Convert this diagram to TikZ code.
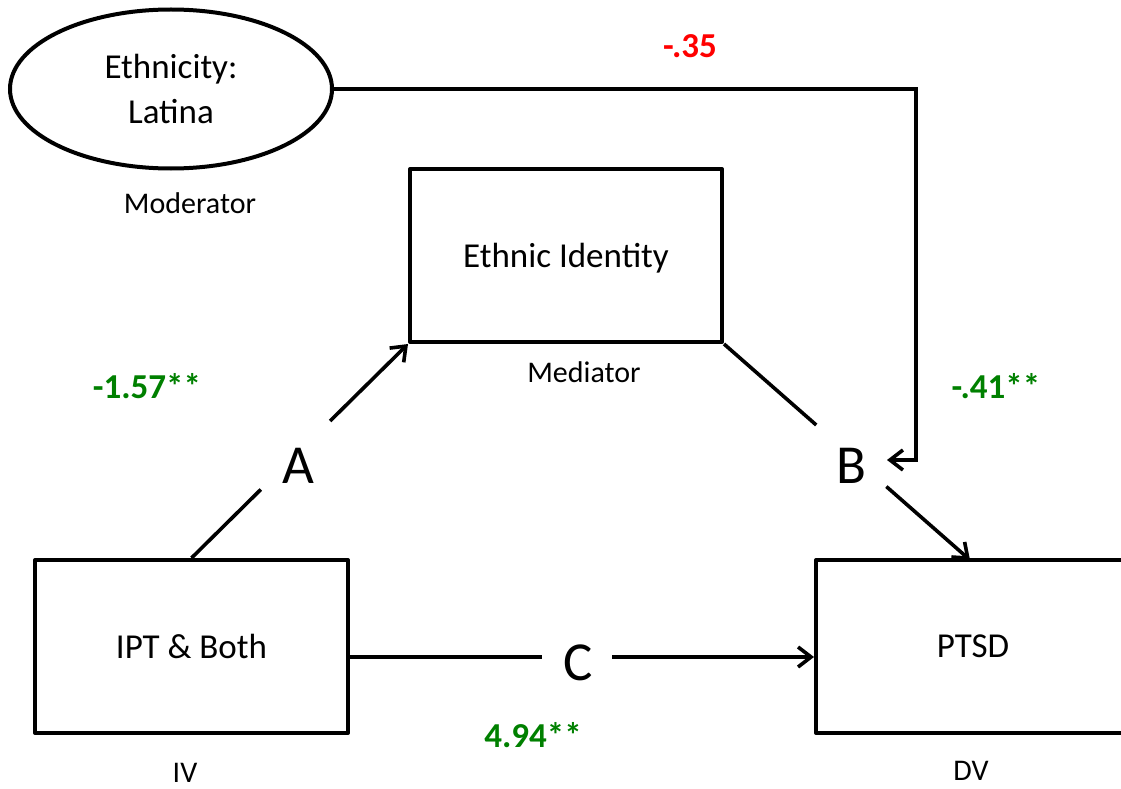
\documentclass[tikz,border=0pt]{standalone}
\usepackage{fontspec}
\setmainfont{Carlito}
\usetikzlibrary{arrows.meta,calc,shapes.geometric}
\definecolor{sigGreen}{RGB}{0,128,0}
\definecolor{sigRed}{RGB}{255,0,0}
\begin{document}
\begin{tikzpicture}[x=1pt,y=-1pt,
  box/.style={draw, line width=4pt, rectangle, inner sep=0pt, line join=round, font=\fontsize{35}{42}\selectfont},
  varlabel/.style={anchor=base, font=\fontsize{30}{36}\selectfont},
  pathlabel/.style={anchor=base, font=\fontsize{55}{66}\selectfont},
  coef/.style={anchor=base, font=\fontsize{35}{42}\selectfont\bfseries},
  conn/.style={line width=3.6pt},
  arr/.style={conn, -{Straight Barb[length=13pt,width=20pt]}},
]
\useasboundingbox (0,0) rectangle (1121,789);
\clip (0,0) rectangle (1121,789);

% variables
\node[draw, ellipse, line width=4pt, minimum width=322pt, minimum height=159pt, inner sep=0pt, align=center, font=\fontsize{35}{45}\selectfont] (mod) at (171,89) {Ethnicity:\\Latina};
\node[box, minimum width=312pt, minimum height=173pt, text depth=0pt] (med) at (566,255.5) {Ethnic Identity};
\node[box, minimum width=313pt, minimum height=173pt] (iv) at (191.5,646.5) {IPT \& Both};
\node[box, minimum width=314pt, minimum height=173pt] (dv) at (973,646.5) {PTSD};

% role labels
\node[varlabel] (modlab) at (190,213) {Moderator};
\node[varlabel] (medlab) at (584,382) {Mediator};
\node[varlabel] (ivlab) at (185,782) {IV};
\node[varlabel] (dvlab) at (971,780) {DV};

% path labels
\node[pathlabel] (A) at (298,483) {A};
\node[pathlabel] (B) at (851,483) {B};
\node[pathlabel] (C) at (578,680) {C};

% coefficients
\node[coef, text=sigRed] (cMod) at (690,58) {-.35};
\node[coef, text=sigGreen] (cA) at (147,398) {-1.57**};
\node[coef, text=sigGreen] (cB) at (996,398) {-.41**};
\node[coef, text=sigGreen] (cC) at (533,747) {4.94**};

% moderator path
\coordinate (kB) at (916,460);
\coordinate (tB) at (887,460);
\draw[arr] (mod.east) -| (kB) -- (tB);

% A path
\coordinate (a1) at ($(iv.north)!0.32!(med.south west)$);
\coordinate (a2) at ($(iv.north)!0.64!(med.south west)$);
\draw[conn] (iv.north) -- (a1);
\draw[arr] (a2) -- (med.south west);

% B path
\coordinate (pB) at (970,560);
\coordinate (b1) at ($(med.south east)!0.375!(pB)$);
\coordinate (b2) at ($(med.south east)!0.66!(pB)$);
\draw[conn] (med.south east) -- (b1);
\draw[arr] (b2) -- (pB);

% C path
\coordinate (c0) at ($(iv.east)+(0,10.5)$);
\coordinate (c3) at ($(dv.west)+(0,10.5)$);
\coordinate (c1) at (542,657);
\coordinate (c2) at (612,657);
\draw[conn] (c0) -- (c1);
\draw[arr] (c2) -- (c3);
\end{tikzpicture}
\end{document}
